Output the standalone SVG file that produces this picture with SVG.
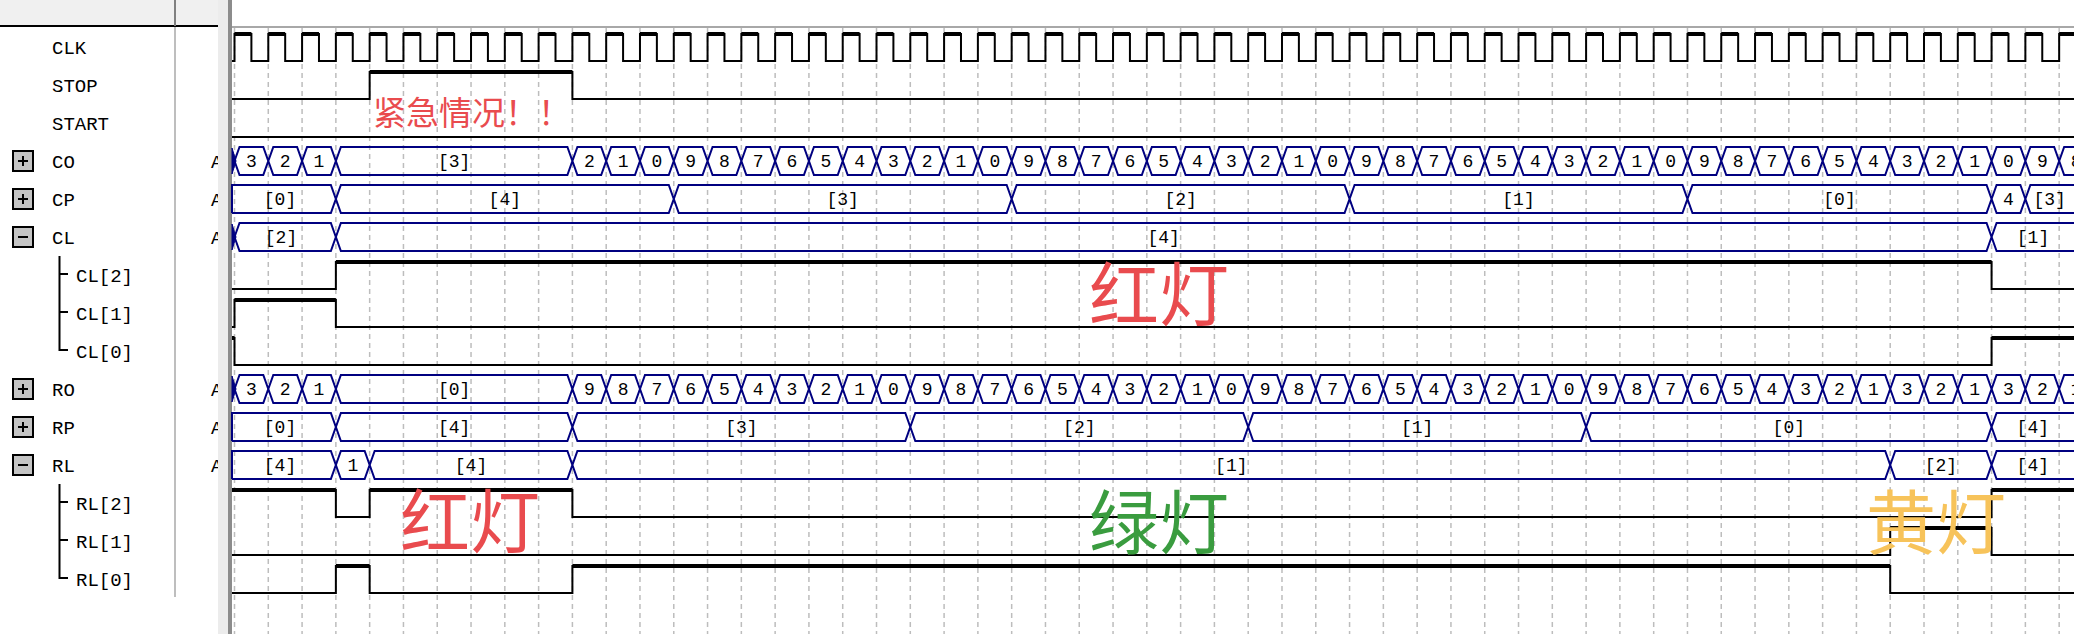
<svg xmlns="http://www.w3.org/2000/svg" width="2074" height="634" viewBox="0 0 2074 634">
<style>
.lbl{font-family:"Liberation Mono","DejaVu Sans Mono",monospace;font-size:19px;fill:#000}
.val{font-family:"Liberation Mono","DejaVu Sans Mono",monospace;font-size:18px;fill:#000;text-anchor:middle}
.w{fill:none;stroke:#000;stroke-width:2}
.hi{fill:none;stroke:#000;stroke-width:4}
.bus{fill:none;stroke:#000080;stroke-width:2}
.blob{fill:#000080;stroke:#000080;stroke-width:1}
.grid{fill:none;stroke:#bdbdbd;stroke-width:1.5;stroke-dasharray:5 4}
.box{fill:#c4c4c4;stroke:#000;stroke-width:2}
.sign{stroke:#000;stroke-width:2}
.tree{fill:none;stroke:#000;stroke-width:2}
.cjk{font-family:"Noto Sans CJK SC","Noto Sans CJK JP",sans-serif}
</style>
<defs>
<clipPath id="leftclip"><rect x="0" y="0" width="218" height="634"/></clipPath>
<path id="busA" d="M234.5,0 l5,-14 h23.79 l5,14 l5,-14 h23.79 l5,14 l5,-14 h23.79 l5,14 l5,-14 H567.4 l5,14 l5,-14
h23.79l5,14l5,-14h23.79l5,14l5,-14h23.79l5,14l5,-14h23.79l5,14l5,-14h23.79l5,14l5,-14h23.79l5,14l5,-14h23.79l5,14l5,-14h23.79l5,14l5,-14h23.79l5,14l5,-14h23.79l5,14l5,-14h23.79l5,14l5,-14
h23.79l5,14l5,-14h23.79l5,14l5,-14h23.79l5,14l5,-14h23.79l5,14l5,-14h23.79l5,14l5,-14h23.79l5,14l5,-14h23.79l5,14l5,-14h23.79l5,14l5,-14h23.79l5,14l5,-14h23.79l5,14l5,-14h23.79l5,14l5,-14
h23.79l5,14l5,-14h23.79l5,14l5,-14h23.79l5,14l5,-14h23.79l5,14l5,-14h23.79l5,14l5,-14h23.79l5,14l5,-14h23.79l5,14l5,-14h23.79l5,14l5,-14h23.79l5,14l5,-14h23.79l5,14l5,-14h23.79l5,14l5,-14
h23.79l5,14l5,-14h23.79l5,14l5,-14h23.79l5,14l5,-14h23.79l5,14l5,-14h23.79l5,14l5,-14h23.79l5,14l5,-14h23.79l5,14l5,-14h23.79l5,14l5,-14h23.79l5,14l5,-14h23.79l5,14l5,-14h23.79l5,14l5,-14
H2080
M234.5,0 l5,14 h23.79 l5,-14 l5,14 h23.79 l5,-14 l5,14 h23.79 l5,-14 l5,14 H567.4 l5,-14 l5,14
h23.79l5,-14l5,14h23.79l5,-14l5,14h23.79l5,-14l5,14h23.79l5,-14l5,14h23.79l5,-14l5,14h23.79l5,-14l5,14h23.79l5,-14l5,14h23.79l5,-14l5,14h23.79l5,-14l5,14h23.79l5,-14l5,14h23.79l5,-14l5,14
h23.79l5,-14l5,14h23.79l5,-14l5,14h23.79l5,-14l5,14h23.79l5,-14l5,14h23.79l5,-14l5,14h23.79l5,-14l5,14h23.79l5,-14l5,14h23.79l5,-14l5,14h23.79l5,-14l5,14h23.79l5,-14l5,14h23.79l5,-14l5,14
h23.79l5,-14l5,14h23.79l5,-14l5,14h23.79l5,-14l5,14h23.79l5,-14l5,14h23.79l5,-14l5,14h23.79l5,-14l5,14h23.79l5,-14l5,14h23.79l5,-14l5,14h23.79l5,-14l5,14h23.79l5,-14l5,14h23.79l5,-14l5,14
h23.79l5,-14l5,14h23.79l5,-14l5,14h23.79l5,-14l5,14h23.79l5,-14l5,14h23.79l5,-14l5,14h23.79l5,-14l5,14h23.79l5,-14l5,14h23.79l5,-14l5,14h23.79l5,-14l5,14h23.79l5,-14l5,14h23.79l5,-14l5,14
H2080"/>
<path id="startblob" d="M232,-13 L236,0 L232,13 Z"/>
</defs>

<rect x="0" y="0" width="2074" height="634" fill="#fff"/>

<g id="left-panel">
<rect x="0" y="0" width="218" height="26" fill="#f0f0f0"/>
<line x1="0" y1="26" x2="218" y2="26" stroke="#000" stroke-width="2"/>
<line x1="175" y1="0" x2="175" y2="26" stroke="#808080" stroke-width="2"/>
<line x1="175" y1="27" x2="175" y2="597" stroke="#a8a8a8" stroke-width="1.5"/>
<rect x="218" y="0" width="10" height="634" fill="#ececec"/>
<rect x="228" y="0" width="4" height="634" fill="#8c8c8c"/>
</g>

<g id="n-CLK"><text class="lbl" x="52" y="53.5">CLK</text></g>
<g id="n-STOP"><text class="lbl" x="52" y="91.5">STOP</text></g>
<g id="n-START"><text class="lbl" x="52" y="129.5">START</text></g>
<g id="n-CO"><rect class="box" x="13" y="151" width="20" height="20"/><line class="sign" x1="18" y1="161" x2="28" y2="161"/><line class="sign" x1="23" y1="156" x2="23" y2="166"/><text class="lbl" x="52" y="167.5">CO</text></g>
<g id="n-CP"><rect class="box" x="13" y="189" width="20" height="20"/><line class="sign" x1="18" y1="199" x2="28" y2="199"/><line class="sign" x1="23" y1="194" x2="23" y2="204"/><text class="lbl" x="52" y="205.5">CP</text></g>
<g id="n-CL"><rect class="box" x="13" y="227" width="20" height="20"/><line class="sign" x1="18" y1="237" x2="28" y2="237"/><text class="lbl" x="52" y="243.5">CL</text>
<path class="tree" d="M59.5,256 V350 H68 M59.5,274 H68 M59.5,312 H68"/></g>
<g id="n-CL2"><text class="lbl" x="76" y="281.5">CL[2]</text></g>
<g id="n-CL1"><text class="lbl" x="76" y="319.5">CL[1]</text></g>
<g id="n-CL0"><text class="lbl" x="76" y="357.5">CL[0]</text></g>
<g id="n-RO"><rect class="box" x="13" y="379" width="20" height="20"/><line class="sign" x1="18" y1="389" x2="28" y2="389"/><line class="sign" x1="23" y1="384" x2="23" y2="394"/><text class="lbl" x="52" y="395.5">RO</text></g>
<g id="n-RP"><rect class="box" x="13" y="417" width="20" height="20"/><line class="sign" x1="18" y1="427" x2="28" y2="427"/><line class="sign" x1="23" y1="422" x2="23" y2="432"/><text class="lbl" x="52" y="433.5">RP</text></g>
<g id="n-RL"><rect class="box" x="13" y="455" width="20" height="20"/><line class="sign" x1="18" y1="465" x2="28" y2="465"/><text class="lbl" x="52" y="471.5">RL</text>
<path class="tree" d="M59.5,484 V578 H68 M59.5,502 H68 M59.5,540 H68"/></g>
<g id="n-RL2"><text class="lbl" x="76" y="509.5">RL[2]</text></g>
<g id="n-RL1"><text class="lbl" x="76" y="547.5">RL[1]</text></g>
<g id="n-RL0"><text class="lbl" x="76" y="585.5">RL[0]</text></g>

<g id="radix" clip-path="url(#leftclip)">
<text class="lbl" x="211" y="167.5">A</text>
<text class="lbl" x="211" y="205.5">A</text>
<text class="lbl" x="211" y="243.5">A</text>
<text class="lbl" x="211" y="395.5">A</text>
<text class="lbl" x="211" y="433.5">A</text>
<text class="lbl" x="211" y="471.5">A</text>
</g>

<g id="grid">
<rect x="232" y="26" width="1842" height="2" fill="#a8a8a8"/>
<path class="grid" d="M234.5,28v606
m33.79,-606v606m33.79,-606v606m33.79,-606v606m33.79,-606v606m33.79,-606v606m33.79,-606v606
m33.79,-606v606m33.79,-606v606m33.79,-606v606m33.79,-606v606m33.79,-606v606m33.79,-606v606
m33.79,-606v606m33.79,-606v606m33.79,-606v606m33.79,-606v606m33.79,-606v606m33.79,-606v606
m33.79,-606v606m33.79,-606v606m33.79,-606v606m33.79,-606v606m33.79,-606v606m33.79,-606v606
m33.79,-606v606m33.79,-606v606m33.79,-606v606m33.79,-606v606m33.79,-606v606m33.79,-606v606
m33.79,-606v606m33.79,-606v606m33.79,-606v606m33.79,-606v606m33.79,-606v606m33.79,-606v606
m33.79,-606v606m33.79,-606v606m33.79,-606v606m33.79,-606v606m33.79,-606v606m33.79,-606v606
m33.79,-606v606m33.79,-606v606m33.79,-606v606m33.79,-606v606m33.79,-606v606m33.79,-606v606
m33.79,-606v606m33.79,-606v606m33.79,-606v606m33.79,-606v606m33.79,-606v606m33.79,-606v606"/>
</g>

<g id="connectors">
<!-- CLK -->
<path class="w" d="M232,61 H234.5 V34
h16.895v27h16.895v-27h16.895v27h16.895v-27h16.895v27h16.895v-27h16.895v27h16.895v-27h16.895v27h16.895v-27h16.895v27h16.895v-27
h16.895v27h16.895v-27h16.895v27h16.895v-27h16.895v27h16.895v-27h16.895v27h16.895v-27h16.895v27h16.895v-27h16.895v27h16.895v-27
h16.895v27h16.895v-27h16.895v27h16.895v-27h16.895v27h16.895v-27h16.895v27h16.895v-27h16.895v27h16.895v-27h16.895v27h16.895v-27
h16.895v27h16.895v-27h16.895v27h16.895v-27h16.895v27h16.895v-27h16.895v27h16.895v-27h16.895v27h16.895v-27h16.895v27h16.895v-27
h16.895v27h16.895v-27h16.895v27h16.895v-27h16.895v27h16.895v-27h16.895v27h16.895v-27h16.895v27h16.895v-27h16.895v27h16.895v-27
h16.895v27h16.895v-27h16.895v27h16.895v-27h16.895v27h16.895v-27h16.895v27h16.895v-27h16.895v27h16.895v-27h16.895v27h16.895v-27
h16.895v27h16.895v-27h16.895v27h16.895v-27h16.895v27h16.895v-27h16.895v27h16.895v-27h16.895v27h16.895v-27h16.895v27h16.895v-27
h16.895v27h16.895v-27h16.895v27h16.895v-27h16.895v27h16.895v-27h16.895v27h16.895v-27h16.895v27h16.895v-27h16.895v27h16.895v-27
h16.895v27h16.895v-27h16.895v27h16.895v-27h16.895v27h16.895v-27h16.895v27h16.895v-27h16.895v27h16.895v-27h16.895v27h16.895v-27
H2080"/>
<path class="hi" d="M234.5,34
h16.895m16.895,0h16.895m16.895,0h16.895m16.895,0h16.895m16.895,0h16.895m16.895,0h16.895m16.895,0
h16.895m16.895,0h16.895m16.895,0h16.895m16.895,0h16.895m16.895,0h16.895m16.895,0h16.895m16.895,0
h16.895m16.895,0h16.895m16.895,0h16.895m16.895,0h16.895m16.895,0h16.895m16.895,0h16.895m16.895,0
h16.895m16.895,0h16.895m16.895,0h16.895m16.895,0h16.895m16.895,0h16.895m16.895,0h16.895m16.895,0
h16.895m16.895,0h16.895m16.895,0h16.895m16.895,0h16.895m16.895,0h16.895m16.895,0h16.895m16.895,0
h16.895m16.895,0h16.895m16.895,0h16.895m16.895,0h16.895m16.895,0h16.895m16.895,0h16.895m16.895,0
h16.895m16.895,0h16.895m16.895,0h16.895m16.895,0h16.895m16.895,0h16.895m16.895,0h16.895m16.895,0
h16.895m16.895,0h16.895m16.895,0h16.895m16.895,0h16.895m16.895,0h16.895m16.895,0h16.895m16.895,0
h16.895m16.895,0h16.895m16.895,0h16.895m16.895,0h16.895m16.895,0h16.895m16.895,0h16.895m16.895,0
H2080"/>
<!-- STOP -->
<path class="w" d="M232,99 H369.66 V72 H572.4 V99 H2080"/>
<path class="hi" d="M369.66,72 H572.4"/>
<!-- START -->
<path class="w" d="M232,137 H2080"/>
<!-- CO -->
<use href="#busA" class="bus" transform="translate(0,161)"/>
<use href="#startblob" class="blob" transform="translate(0,161)"/>
<!-- CP -->
<path class="bus" d="M232,213 V185 H330.87 l5,14 l5,-14 H668.77 l5,14 l5,-14 H1006.67 l5,14 l5,-14 H1344.57 l5,14 l5,-14 H1682.47 l5,14 l5,-14 H1986.58 l5,14 l5,-14 H2020.37 l5,14 l5,-14 H2080
M232,213 H330.87 l5,-14 l5,14 H668.77 l5,-14 l5,14 H1006.67 l5,-14 l5,14 H1344.57 l5,-14 l5,14 H1682.47 l5,-14 l5,14 H1986.58 l5,-14 l5,14 H2020.37 l5,-14 l5,14 H2080"/>
<!-- CL -->
<path class="bus" d="M234.5,237 l5,-14 H330.87 l5,14 l5,-14 H1986.58 l5,14 l5,-14 H2080 M234.5,237 l5,14 H330.87 l5,-14 l5,14 H1986.58 l5,-14 l5,14 H2080"/>
<use href="#startblob" class="blob" transform="translate(0,237)"/>
<!-- CL[2] -->
<path class="w" d="M232,289 H335.87 V262 H1991.58 V289 H2080"/>
<path class="hi" d="M335.87,262 H1991.58"/>
<!-- CL[1] -->
<path class="w" d="M232,327 H234.5 V300 H335.87 V327 H2080"/>
<path class="hi" d="M234.5,300 H335.87"/>
<!-- CL[0] -->
<path class="w" d="M232,338 H234.5 V365 H1991.58 V338 H2080"/>
<path class="hi" d="M232,338 H234.5 M1991.58,338 H2080"/>
<!-- RO -->
<use href="#busA" class="bus" transform="translate(0,389)"/>
<use href="#startblob" class="blob" transform="translate(0,389)"/>
<!-- RP -->
<path class="bus" d="M232,441 V413 H330.87 l5,14 l5,-14 H567.4 l5,14 l5,-14 H905.3 l5,14 l5,-14 H1243.2 l5,14 l5,-14 H1581.1 l5,14 l5,-14 H1986.58 l5,14 l5,-14 H2080
M232,441 H330.87 l5,-14 l5,14 H567.4 l5,-14 l5,14 H905.3 l5,-14 l5,14 H1243.2 l5,-14 l5,14 H1581.1 l5,-14 l5,14 H1986.58 l5,-14 l5,14 H2080"/>
<!-- RL -->
<path class="bus" d="M232,479 V451 H330.87 l5,14 l5,-14 H364.66 l5,14 l5,-14 H567.4 l5,14 l5,-14 H1885.21 l5,14 l5,-14 H1986.58 l5,14 l5,-14 H2080
M232,479 H330.87 l5,-14 l5,14 H364.66 l5,-14 l5,14 H567.4 l5,-14 l5,14 H1885.21 l5,-14 l5,14 H1986.58 l5,-14 l5,14 H2080"/>
<!-- RL[2] -->
<path class="w" d="M232,490 H335.87 V517 H369.66 V490 H572.4 V517 H1991.58 V490 H2080"/>
<path class="hi" d="M232,490 H335.87 M369.66,490 H572.4 M1991.58,490 H2080"/>
<!-- RL[1] -->
<path class="w" d="M232,555 H1890.21 V528 H1991.58 V555 H2080"/>
<path class="hi" d="M1890.21,528 H1991.58"/>
<!-- RL[0] -->
<path class="w" d="M232,593 H335.87 V566 H369.66 V593 H572.4 V566 H1890.21 V593 H2080"/>
<path class="hi" d="M335.87,566 H369.66 M572.4,566 H1890.21"/>
</g>

<g id="values">
<text class="val" x="251.4 285.2 319.0" y="167">321</text>
<text class="val" x="589.3 623.1 656.9 690.7 724.5 758.2 792.0 825.8 859.6 893.4 927.2 961.0 994.8 1028.6 1062.4 1096.2 1129.9 1163.7 1197.5 1231.3 1265.1 1298.9 1332.7 1366.5 1400.3 1434.0 1467.8 1501.6 1535.4 1569.2 1603.0 1636.8 1670.6 1704.4 1738.2 1771.9 1805.7 1839.5 1873.3 1907.1 1940.9 1974.7 2008.5 2042.3" y="167">21098765432109876543210987654321098765432109</text>
<text class="val" x="2076.1" y="167">8</text>
<text class="val" x="454.1" y="167">[3]</text>
<text class="val" x="280" y="205">[0]</text>
<text class="val" x="504.8" y="205">[4]</text>
<text class="val" x="842.7" y="205">[3]</text>
<text class="val" x="1180.6" y="205">[2]</text>
<text class="val" x="1518.5" y="205">[1]</text>
<text class="val" x="1839.5" y="205">[0]</text>
<text class="val" x="2008.5" y="205">4</text>
<text class="val" x="2049.7" y="205">[3]</text>
<text class="val" x="281" y="243">[2]</text>
<text class="val" x="1163.7" y="243">[4]</text>
<text class="val" x="2033" y="243">[1]</text>
<text class="val" x="251.4 285.2 319.0" y="395">321</text>
<text class="val" x="589.3 623.1 656.9 690.7 724.5 758.2 792.0 825.8 859.6 893.4 927.2 961.0 994.8 1028.6 1062.4 1096.2 1129.9 1163.7 1197.5 1231.3 1265.1 1298.9 1332.7 1366.5 1400.3 1434.0 1467.8 1501.6 1535.4 1569.2 1603.0 1636.8 1670.6 1704.4 1738.2 1771.9 1805.7 1839.5 1873.3 1907.1 1940.9 1974.7 2008.5 2042.3" y="395">98765432109876543210987654321098765432132132</text>
<text class="val" x="2076.1" y="395">1</text>
<text class="val" x="454.1" y="395">[0]</text>
<text class="val" x="280" y="433">[0]</text>
<text class="val" x="454.1" y="433">[4]</text>
<text class="val" x="741.4" y="433">[3]</text>
<text class="val" x="1079.3" y="433">[2]</text>
<text class="val" x="1417.2" y="433">[1]</text>
<text class="val" x="1788.8" y="433">[0]</text>
<text class="val" x="2032.8" y="433">[4]</text>
<text class="val" x="280" y="471">[4]</text>
<text class="val" x="352.8" y="471">1</text>
<text class="val" x="471" y="471">[4]</text>
<text class="val" x="1231.3" y="471">[1]</text>
<text class="val" x="1940.9" y="471">[2]</text>
<text class="val" x="2032.8" y="471">[4]</text>
</g>

<g id="annotations">
<text class="cjk" x="373" y="125" font-size="33" fill="#e94b4e">紧急情况！！</text>
<text class="cjk" x="1089" y="321" font-size="70" fill="#e94b4e">红灯</text>
<text class="cjk" x="400" y="548" font-size="70" fill="#e94b4e">红灯</text>
<text class="cjk" x="1089" y="549" font-size="70" fill="#3a9c3f">绿灯</text>
<text class="cjk" x="1866" y="549" font-size="70" fill="#f7c35a">黄灯</text>
</g>
</svg>
